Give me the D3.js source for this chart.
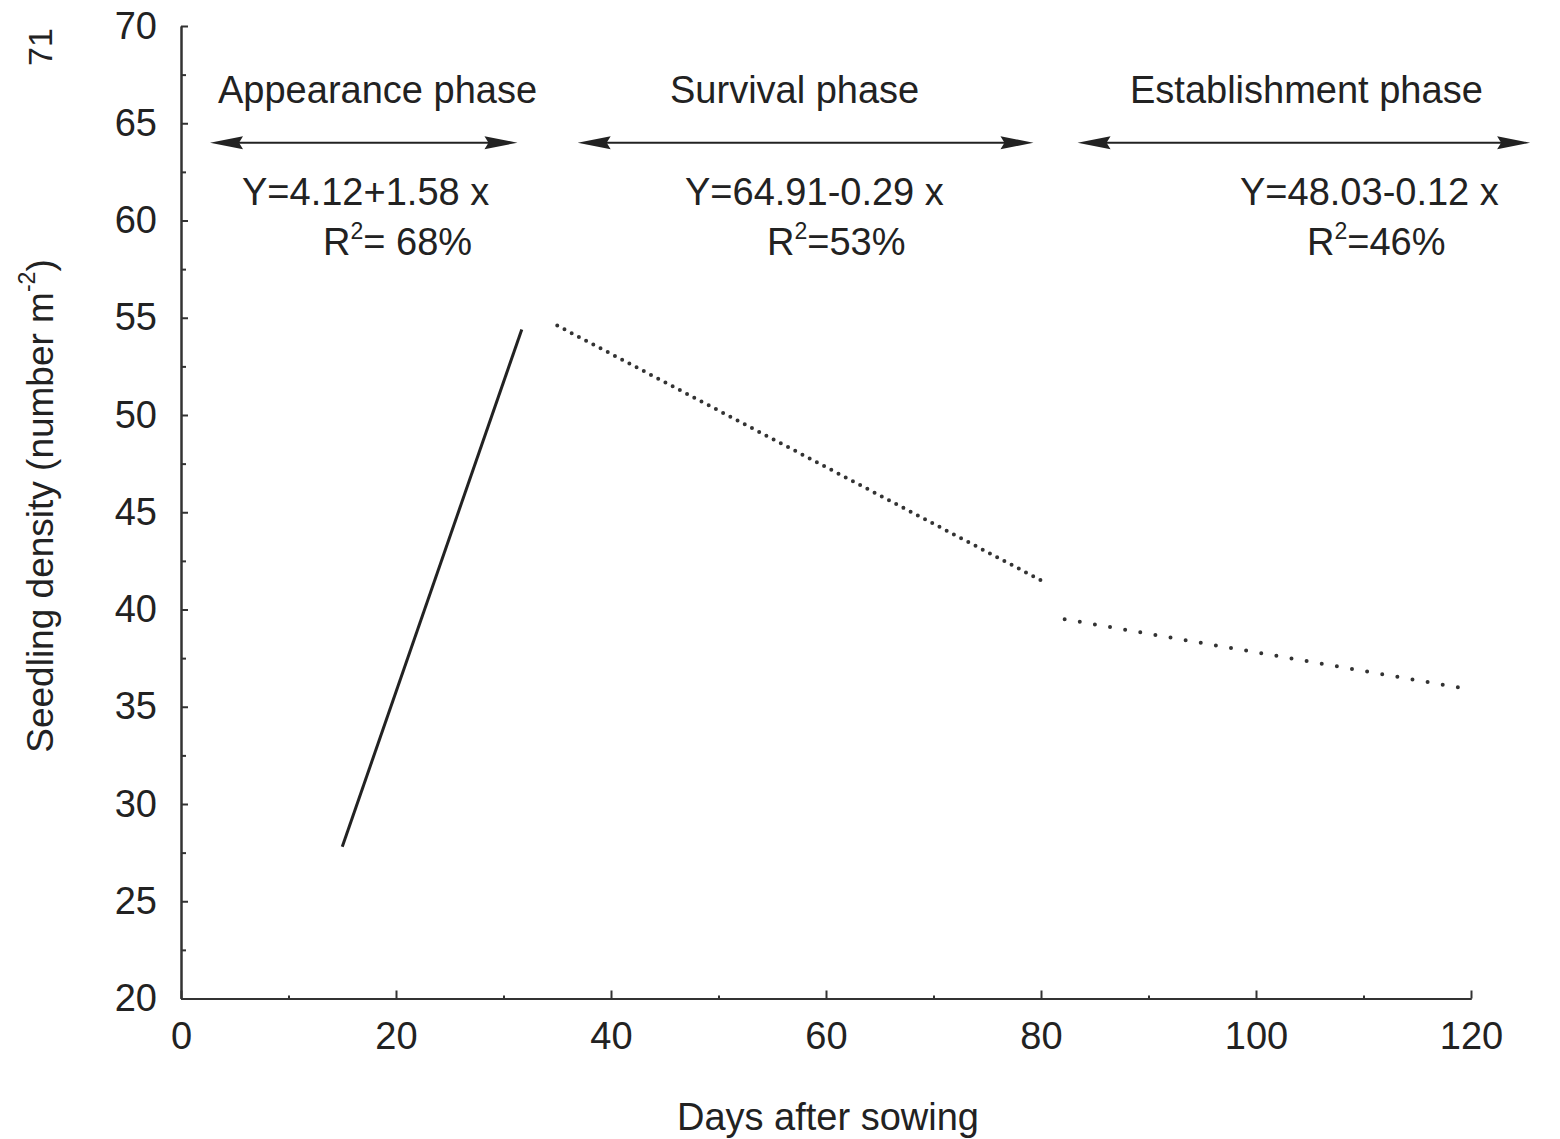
<!DOCTYPE html>
<html>
<head>
<meta charset="utf-8">
<script src="https://cdn.jsdelivr.net/npm/d3@7"></script>
<style>
    body { margin: 0; background: #fff; }
    svg { display: block; font-family: "Liberation Sans", Arial, Helvetica, sans-serif; }
    .axis path, .axis line { stroke: #333; stroke-width: 2; }
    .axis text { fill: #222; font-size: 38px; font-family: "Liberation Sans", Arial, sans-serif; }
</style>
</head>
<body>
<svg id="chart" width="1560" height="1139"></svg>
<script>
// values
const X_TICKS = [0, 20, 40, 60, 80, 100, 120];
const X_MINOR = [10, 30, 50, 70, 90, 110];
const Y_TICKS = [20, 25, 30, 35, 40, 45, 50, 55, 60, 65, 70];
const Y_MINOR = [22.5, 27.5, 32.5, 37.5, 42.5, 47.5, 52.5, 57.5, 62.5, 67.5];

const PHASES = ["Appearance phase", "Survival phase", "Establishment phase"];
const PHASE_START = [2.7, 36.9, 83.4];
const PHASE_END = [31.3, 79.3, 125.5];
const EQUATIONS = ["Y=4.12+1.58 x", "Y=64.91-0.29 x", "Y=48.03-0.12 x"];
const R2_TEXT = ["= 68%", "=53%", "=46%"];

// fitted lines (day, seedlings per m2)
const APPEARANCE_LINE = [[15, 27.8], [31.7, 54.4]];
const SURVIVAL_LINE = [[35, 54.6], [80, 41.5]];
const ESTABLISHMENT_LINE = [[82.2, 39.5], [118.8, 36.0]];

const svg = d3.select("#chart");

let x = d3.scaleLinear().domain([0, 120]).range([181, 1471]);
let y = d3.scaleLinear().domain([20, 70]).range([998.5, 26]);

// axes (ticks point inwards)
svg.append("g")
    .attr("class", "axis")
    .attr("transform", "translate(0," + y(20) + ")")
    .call(d3.axisBottom(x).tickValues(X_MINOR).tickSize(-3).tickSizeOuter(0).tickFormat(""));
svg.append("g")
    .attr("class", "axis")
    .attr("transform", "translate(0," + y(20) + ")")
    .call(d3.axisBottom(x).tickValues(X_TICKS).tickSize(-8).tickSizeOuter(0).tickPadding(24).tickFormat(d3.format("d")));

svg.append("g")
    .attr("class", "axis")
    .attr("transform", "translate(" + x(0) + ",0)")
    .call(d3.axisLeft(y).tickValues(Y_MINOR).tickSize(-5).tickSizeOuter(0).tickFormat(""));
svg.append("g")
    .attr("class", "axis")
    .attr("transform", "translate(" + x(0) + ",0)")
    .call(d3.axisLeft(y).tickValues(Y_TICKS).tickSize(-7).tickSizeOuter(0).tickPadding(24).tickFormat(d3.format("d")));

svg.selectAll(".axis text").attr("font-size", null).attr("font-family", null);

// axis titles
svg.append("text")
    .attr("x", 828)
    .attr("y", 1130)
    .attr("text-anchor", "middle")
    .attr("font-size", 38)
    .attr("fill", "#222")
    .text("Days after sowing");

let yTitle = svg.append("text")
    .attr("transform", "translate(53,506) rotate(-90)")
    .attr("text-anchor", "middle")
    .attr("font-size", 37)
    .attr("fill", "#222");
yTitle.append("tspan").text("Seedling density (number m");
yTitle.append("tspan").attr("font-size", 23).attr("dy", -18).text("-2");
yTitle.append("tspan").attr("dy", 18).text(")");

// page number in the corner
svg.append("text")
    .attr("transform", "translate(40,47) rotate(-90)")
    .attr("text-anchor", "middle")
    .attr("dy", "0.35em")
    .attr("font-size", 34)
    .attr("fill", "#222")
    .text("71");

// fitted lines
let line = d3.line().x(d => x(d[0])).y(d => y(d[1]));

svg.append("path")
    .datum(APPEARANCE_LINE)
    .attr("d", line)
    .attr("fill", "none")
    .attr("stroke", "#222")
    .attr("stroke-width", 3);

// dotted lines: fit the dot spacing so both ends get a dot
function dotted(data, spacing) {
    let p = svg.append("path")
        .datum(data)
        .attr("d", line)
        .attr("fill", "none")
        .attr("stroke", "#333")
        .attr("stroke-width", 4)
        .attr("stroke-linecap", "round");
    let len = p.node().getTotalLength();
    let gap = len / Math.round(len / spacing) - 0.01; // a hair short so the last dot is kept
    p.attr("stroke-dasharray", "0," + gap);
}
dotted(SURVIVAL_LINE, 8.2);
dotted(ESTABLISHMENT_LINE, 15.3);

// phase arrows and labels
const TITLE_X = [218, 670, 1130];
const EQ_X = [242, 685, 1240];
const R2_X = [323, 767, 1307];
let arrowY = y(64);
let headLen = 33, headHalf = 6.5;

PHASES.forEach(function(name, i) {
    let x0 = x(PHASE_START[i]), x1 = x(PHASE_END[i]);

    svg.append("line")
        .attr("x1", x0 + 10).attr("x2", x1 - 10)
        .attr("y1", arrowY).attr("y2", arrowY)
        .attr("stroke", "#222")
        .attr("stroke-width", 2);

    svg.append("path")
        .attr("d", "M" + x0 + "," + arrowY + "L" + (x0 + headLen) + "," + (arrowY - headHalf) +
            "L" + (x0 + headLen - 4) + "," + arrowY + "L" + (x0 + headLen) + "," + (arrowY + headHalf) + "Z")
        .attr("fill", "#222");
    svg.append("path")
        .attr("d", "M" + x1 + "," + arrowY + "L" + (x1 - headLen) + "," + (arrowY - headHalf) +
            "L" + (x1 - headLen + 4) + "," + arrowY + "L" + (x1 - headLen) + "," + (arrowY + headHalf) + "Z")
        .attr("fill", "#222");

    svg.append("text")
        .attr("x", TITLE_X[i])
        .attr("y", 103)
        .attr("font-size", 38)
        .attr("fill", "#222")
        .text(name);

    svg.append("text")
        .attr("x", EQ_X[i])
        .attr("y", 205)
        .attr("font-size", 38)
        .attr("fill", "#222")
        .text(EQUATIONS[i]);

    let r2 = svg.append("text")
        .attr("x", R2_X[i])
        .attr("y", 255)
        .attr("font-size", 38)
        .attr("fill", "#222");
    r2.append("tspan").text("R");
    r2.append("tspan").attr("font-size", 23).attr("dy", -16).text("2");
    r2.append("tspan").attr("dy", 16).text(R2_TEXT[i]);
});
</script>
</body>
</html>
